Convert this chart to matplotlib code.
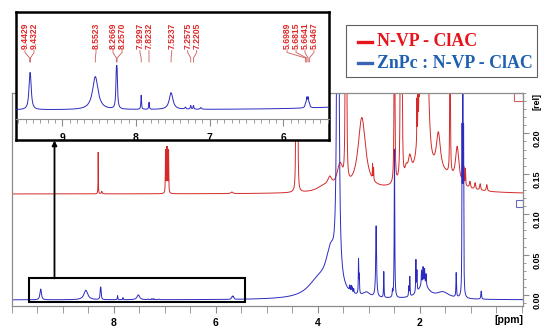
import numpy as np
import matplotlib.pyplot as plt
from matplotlib.patches import Rectangle
from matplotlib.lines import Line2D
from matplotlib.ticker import MultipleLocator, FormatStrFormatter
import matplotlib.transforms as mtransforms

plt.rcParams['font.family'] = ['Liberation Sans', 'DejaVu Sans']

# ZnPc : N-VP - ClAC (blue) - labelled peaks of the inset: shift, height, half width
zn_label_ppm = [9.4429, 9.4322, 8.5523, 8.2669, 8.2570, 7.9297, 7.8232, 7.5237,
                7.2575, 7.2205, 5.6989, 5.6815, 5.6641, 5.6467]
zn_label_h = [0.0075, 0.0075, 0.0118, 0.0107, 0.0107, 0.0050, 0.0025, 0.0060,
              0.0013, 0.0013, 0.0012, 0.0032, 0.0032, 0.0012]
zn_label_w = [0.015, 0.015, 0.045, 0.008, 0.008, 0.005, 0.005, 0.030,
              0.006, 0.006, 0.008, 0.008, 0.008, 0.008]

# ZnPc : N-VP - ClAC (blue) - other peaks
zn_ppm = [7.33, 7.12, 3.61, 3.75, 4.00, 3.38, 3.35, 3.33, 3.30, 3.205, 3.19,
          3.05, 2.86, 2.71, 2.54, 2.50, 2.22, 2.20, 2.08, 2.06, 1.97, 1.94,
          1.91, 1.88, 1.93, 1.55, 1.29, 1.175, 1.16, 1.145, 0.80]
zn_h = [0.0007, 0.0006, 1.5, 0.05, 0.02, 0.006, 0.007, 0.006, 0.005, 0.042, 0.022,
        0.006, 0.088, 0.032, 0.008, 0.184, 0.012, 0.024, 0.040, 0.025, 0.018, 0.020,
        0.018, 0.014, 0.018, 0.008, 0.030, 0.18, 0.5, 0.18, 0.010]
zn_w = [0.01, 0.01, 0.012, 0.12, 0.25, 0.005, 0.005, 0.005, 0.005, 0.005, 0.005,
        0.08, 0.010, 0.005, 0.005, 0.006, 0.005, 0.005, 0.005, 0.005, 0.006, 0.006,
        0.006, 0.006, 0.12, 0.15, 0.006, 0.004, 0.004, 0.004, 0.008]

# N-VP - ClAC (red)
vp_ppm = [8.31, 8.24, 6.99, 6.97, 6.95, 6.93, 5.69, 4.43, 4.40, 3.90, 3.77, 3.57,
          3.46, 3.44, 3.14, 2.93, 2.91, 2.50, 2.38, 2.355, 2.27, 2.20, 2.06, 2.04,
          2.02, 2.03, 1.93, 1.86, 1.85, 1.64, 1.50, 1.41, 1.27, 1.17, 1.14, 1.11,
          1.02, 0.92, 0.82, 0.69, 2.20]
vp_h = [0.0515, 0.003, 0.052, 0.054, 0.054, 0.052, 0.002, 0.5, 0.5, 0.006, 0.012, 0.030,
        0.6, 0.4, 0.090, 0.018, 0.015, 0.6, 0.5, 0.4, 0.012, 0.025, 0.05, 0.05,
        0.05, 0.020, 0.30, 0.3, 0.08, 0.050, 0.015, 0.5, 0.045, 0.02, 0.02, 0.02,
        0.008, 0.008, 0.008, 0.008, 0.006]
vp_w = [0.003, 0.01, 0.004, 0.004, 0.004, 0.004, 0.02, 0.004, 0.004, 0.15, 0.05, 0.07,
        0.005, 0.005, 0.09, 0.004, 0.004, 0.005, 0.006, 0.006, 0.03, 0.04, 0.003, 0.003,
        0.003, 0.05, 0.05, 0.004, 0.03, 0.05, 0.25, 0.004, 0.04, 0.005, 0.005, 0.005,
        0.012, 0.012, 0.012, 0.012, 0.7]

zn_base = -0.006
vp_base = 0.125

# where the labels sit along the inset (ppm)
label_pos = [9.507, 9.385, 8.543, 8.312, 8.190, 7.946, 7.824, 7.515,
             7.298, 7.176, 5.950, 5.828, 5.706, 5.584]


def spectrum(x, centres, heights, widths):
    y = np.zeros_like(x)
    for c, h, w in zip(centres, heights, widths):
        y += h * w ** 2 / ((x - c) ** 2 + w ** 2)
    return y


ppm = np.linspace(10.0, -0.02, 40001)
zn = spectrum(ppm, zn_label_ppm, zn_label_h, zn_label_w) + spectrum(ppm, zn_ppm, zn_h, zn_w) + zn_base
vp = spectrum(ppm, vp_ppm, vp_h, vp_w) + vp_base

red = '#d42a2a'
blue = '#2b2bbf'
grey = '#8c8c8c'
W, H = 550, 336

fig = plt.figure(figsize=(5.5, 3.36), dpi=100)

# main spectrum
ax = fig.add_axes([12 / W, 30.3 / H, 511 / W, 212.7 / H])
ax.plot(ppm, vp, color=red, lw=0.7)
ax.plot(ppm, zn, color=blue, lw=0.7)
ax.set_xlim(10.0, -0.02)
ax.set_ylim(-0.0132, 0.25)
for s in ax.spines.values():
    s.set_color(grey)
    s.set_linewidth(0.9)

ax.set_xticks([8, 6, 4, 2])
ax.xaxis.set_minor_locator(MultipleLocator(0.5))
ax.tick_params(axis='x', which='both', direction='out', length=5, color=grey,
               labelsize=7.5, pad=4)
ax.yaxis.tick_right()
ax.set_yticks([0.0, 0.05, 0.10, 0.15, 0.20])
ax.yaxis.set_major_formatter(FormatStrFormatter('%.2f'))
ax.yaxis.set_minor_locator(MultipleLocator(0.01))
ax.tick_params(axis='y', which='major', direction='out', length=4, color=grey,
               labelsize=6.5, labelrotation=90, pad=3)
ax.tick_params(axis='y', which='minor', direction='out', length=2.5, color=grey)
for lab in ax.get_xticklabels() + ax.get_yticklabels():
    lab.set_fontweight('bold')

fig.text(509 / W, 1 - 320 / H, '[ppm]', ha='center', va='center',
         fontsize=7.5, fontweight='bold')
fig.text(537 / W, 1 - 101 / H, '[rel]', ha='center', va='center',
         fontsize=6.5, fontweight='bold', rotation=90)

# offset markers on the right
ax.add_patch(Rectangle((-0.02, 0.2405), 0.177, 0.0095, fill=False,
                       edgecolor='#d06060', lw=0.8, clip_on=False))
ax.add_patch(Rectangle((-0.02, 0.1086), 0.138, 0.0087, fill=False,
                       edgecolor='#6a6ab8', lw=0.8, clip_on=False))

# box around the zoomed region + arrow to the inset
ax.add_patch(Rectangle((5.431, -0.009), 4.236, 0.0296, fill=False,
                       edgecolor='black', lw=1.5, zorder=5))
ax.annotate('', xy=(54.5 / W, 1 - 140.5 / H), xycoords='figure fraction',
            xytext=(9.167, 0.0206), textcoords='data',
            arrowprops=dict(arrowstyle='-|>', color='black', lw=1.3,
                            mutation_scale=7, shrinkA=0, shrinkB=0))

# inset frame
frame = fig.add_axes([16 / W, 1 - 140 / H, 313 / W, 128 / H])
frame.set_xticks([])
frame.set_yticks([])
frame.set_facecolor('white')
for s in frame.spines.values():
    s.set_color('black')
    s.set_linewidth(1.8)

# inset spectrum
ins = fig.add_axes([16 / W, 1 - 119 / H, 313 / W, 107 / H])
ins.patch.set_alpha(0)
ins.plot(ppm, zn, color=blue, lw=0.7)
ins.set_xlim(9.629, 5.380)
ins.set_ylim(-0.0092, 0.029)
for side in ['top', 'left', 'right']:
    ins.spines[side].set_visible(False)
ins.spines['bottom'].set_color(grey)
ins.set_yticks([])
ins.set_xticks([9, 8, 7, 6])
ins.xaxis.set_minor_locator(MultipleLocator(0.1))
ins.tick_params(axis='x', which='major', length=5, color=grey, labelsize=7.5, pad=5)
ins.tick_params(axis='x', which='minor', length=3, color=grey)
for lab in ins.get_xticklabels():
    lab.set_fontweight('bold')

trans = mtransforms.blended_transform_factory(ins.transData, ins.transAxes)
for shift, lx in zip(zn_label_ppm, label_pos):
    ins.text(lx, 0.650, f'{shift:.4f}', transform=trans, rotation=90,
             ha='center', va='bottom', color='#e02828', fontsize=6.2,
             fontweight='bold', clip_on=False)
    ins.plot([lx, lx, shift, shift], [0.640, 0.622, 0.570, 0.533], transform=trans,
             color='#cc5a5a', lw=0.6, clip_on=False)

# legend
fig.patches.append(Rectangle((346 / W, 1 - 77 / H), 191 / W, 52 / H, transform=fig.transFigure,
                             facecolor='white', edgecolor='#606060', lw=0.8))
fig.lines.append(Line2D([358 / W, 372 / W], [1 - 42 / H] * 2, transform=fig.transFigure,
                        color='#e8141c', lw=2.4))
fig.lines.append(Line2D([358 / W, 372 / W], [1 - 63 / H] * 2, transform=fig.transFigure,
                        color='#3c64b4', lw=2.4))
fig.text(377 / W, 1 - 42 / H, 'N-VP - ClAC', color='#e8141c', fontsize=12.9,
         family='Liberation Serif', fontweight='bold', va='center', ha='left')
fig.text(377 / W, 1 - 63 / H, 'ZnPc : N-VP - ClAC', color='#2060b0', fontsize=12.9,
         family='Liberation Serif', fontweight='bold', va='center', ha='left')

fig.savefig('out.png', dpi=100)
